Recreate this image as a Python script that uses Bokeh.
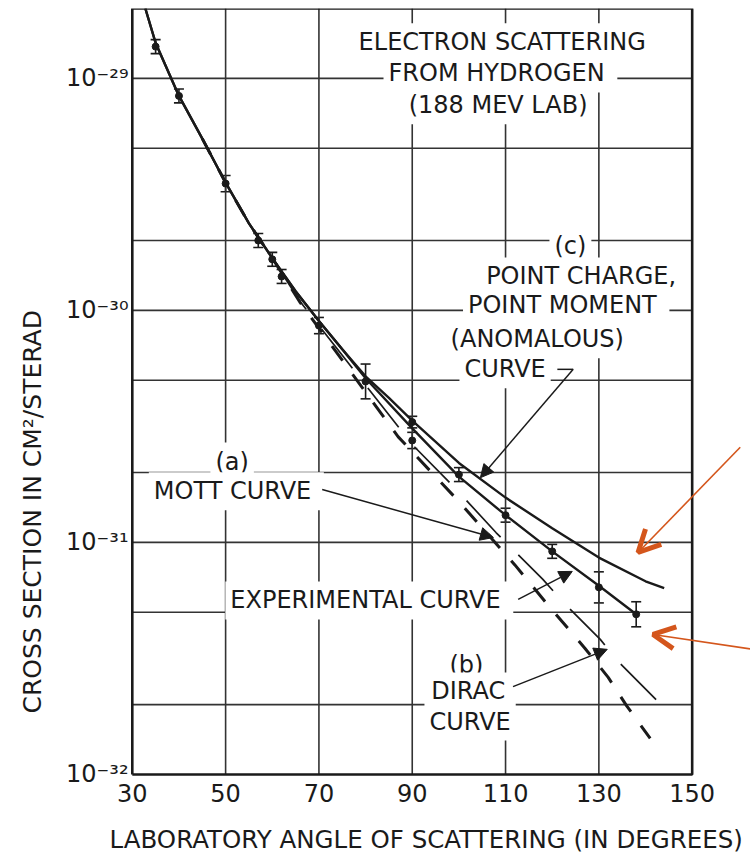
import numpy as np
from bokeh.plotting import figure
from bokeh.models import (Range1d, FixedTicker, Label, Arrow, NormalHead, OpenHead,
                          ColumnDataSource, Whisker, TeeHead, Title)
from bokeh.embed import file_html
from bokeh.resources import INLINE

FONT = "DejaVu Sans"
INK = "#1a1a1a"
ORANGE = "#d4561c"

# ---- axes / grid ----
x_ticks = [30, 50, 70, 90, 110, 130, 150]
x_tick_labels = ["30", "50", "70", "90", "110", "130", "150"]
y_ticks = [1e-32, 1e-31, 1e-30, 1e-29]
y_tick_labels = ["10⁻³²", "10⁻³¹", "10⁻³⁰", "10⁻²⁹"]
x_grid = [50, 70, 90, 110, 130]
y_grid = [2e-32, 5e-32, 1e-31, 2e-31, 5e-31, 1e-30, 2e-30, 5e-30, 1e-29]
x_min, x_max = 30, 150
y_min, y_max = 1e-32, 2e-29
x_title = "LABORATORY ANGLE OF SCATTERING (IN DEGREES)"
y_title = "CROSS SECTION IN CM²/STERAD"

# ---- curves ----
anom_x = [32.8, 35, 40, 45, 50, 55, 60, 65, 70, 75, 80, 85, 90, 100, 110, 120, 130, 140, 144]
anom_y = [2.0e-29, 1.42e-29, 8.4e-30, 5.5e-30, 3.55e-30, 2.37e-30, 1.68e-30, 1.21e-30, 9.0e-31,
          6.8e-31, 5.2e-31, 4.2e-31, 3.35e-31, 2.2e-31, 1.56e-31, 1.15e-31, 8.6e-32, 6.8e-32, 6.35e-32]

exp_x = [32.8, 35, 40, 45, 50, 55, 60, 65, 70, 75, 80, 90, 100, 110, 120, 130, 138]
exp_y = [2.0e-29, 1.42e-29, 8.4e-30, 5.5e-30, 3.55e-30, 2.37e-30, 1.68e-30, 1.21e-30, 9.0e-31,
         6.8e-31, 5.1e-31, 3.1e-31, 1.92e-31, 1.31e-31, 9.15e-32, 6.5e-32, 4.9e-32]

mott_x = [45, 50, 55, 60, 66, 75, 87, 100, 107, 112, 119, 127, 132, 136, 141]
mott_y = [5.5e-30, 3.55e-30, 2.37e-30, 1.68e-30, 1.08e-30, 6.1e-31, 2.85e-31, 1.5e-31,
          1.04e-31, 8.0e-32, 5.4e-32, 3.5e-32, 2.62e-32, 1.97e-32, 1.43e-32]

dirac_x = [45, 50, 55, 60, 66, 75, 90, 99, 108, 118, 122.4, 130.3, 134.1, 142.9]
dirac_y = [5.5e-30, 3.55e-30, 2.37e-30, 1.68e-30, 1.09e-30, 6.4e-31, 2.64e-31, 1.73e-31,
           1.10e-31, 6.93e-32, 5.51e-32, 3.82e-32, 3.07e-32, 2.04e-32]

# ---- measured points ----
pts_x = [35, 40, 50, 57, 60, 62, 70, 80, 90, 90, 100, 110, 120, 130, 138]
pts_y = [1.37e-29, 8.4e-30, 3.52e-30, 2.0e-30, 1.66e-30, 1.4e-30, 8.6e-31, 4.94e-31,
         3.3e-31, 2.75e-31, 1.96e-31, 1.31e-31, 9.15e-32, 6.4e-32, 4.9e-32]
pts_err_dec = [0.03, 0.03, 0.035, 0.03, 0.03, 0.03, 0.035, 0.075,
               0.025, 0.035, 0.03, 0.03, 0.03, 0.067, 0.054]

# ---- annotations ----
note_text = ["ELECTRON  SCATTERING", "FROM  HYDROGEN", "(188 MEV LAB)",
             "(c)", "POINT CHARGE,", "POINT  MOMENT", "(ANOMALOUS)", "CURVE",
             "(a)", "MOTT  CURVE", "EXPERIMENTAL  CURVE",
             "(b)", "DIRAC", "CURVE"]
note_x = [110.1, 108.9, 108.4, 123.9, 126.2, 123.0, 116.8, 109.9,
          51.4, 52.3, 80.8, 101.6, 102.0, 102.4]
note_y = [1.43e-29, 1.05e-29, 7.66e-30, 1.89e-30, 1.40e-30, 1.05e-30, 7.5e-31, 5.57e-31,
          2.23e-31, 1.66e-31, 5.62e-32, 2.95e-32, 2.28e-32, 1.69e-32]

# black pointer arrows: (x_start, y_start, x_end, y_end)
arrows = [
    (124.5, 5.57e-31, 104.6, 1.9e-31),    # anomalous curve
    (70.7, 1.69e-31, 107.4, 1.05e-31),    # Mott curve
    (112.7, 5.68e-32, 124.3, 7.5e-32),    # experimental curve
    (111.6, 2.39e-32, 131.8, 3.46e-32),   # Dirac curve
]
anom_hook_x = [121.1, 124.5]
anom_hook_y = [5.57e-31, 5.57e-31]
orange_arrows = [
    (160.3, 2.57e-31, 138.4, 9.05e-32),
    (164.0, 3.44e-32, 141.6, 4.01e-32),
]

p = figure(width=750, height=854,
           x_range=Range1d(29.4, 162.5), y_range=Range1d(9.7e-33, 2e-29),
           y_axis_type="log", output_backend="svg", toolbar_location=None,
           min_border_left=129, min_border_right=0, min_border_top=8, min_border_bottom=77)
p.outline_line_color = None
p.background_fill_color = "white"
p.border_fill_color = "white"
p.xgrid.visible = False
p.ygrid.visible = False

for ax in (p.xaxis, p.yaxis):
    ax.axis_line_color = None
    ax.major_tick_line_color = None
    ax.minor_tick_line_color = None
    ax.major_tick_out = 0
    ax.major_tick_in = 0
    ax.minor_tick_out = 0
    ax.minor_tick_in = 0
    ax.major_label_text_font = FONT
    ax.major_label_text_font_size = "24px"
    ax.major_label_text_color = INK

p.xaxis.ticker = FixedTicker(ticks=x_ticks, minor_ticks=[])
p.xaxis.major_label_overrides = dict(zip(x_ticks, x_tick_labels))
p.xaxis.major_label_standoff = 6
p.yaxis.ticker = FixedTicker(ticks=y_ticks, minor_ticks=[])
p.yaxis.major_label_overrides = dict(zip(y_ticks, y_tick_labels))
p.yaxis.major_label_standoff = 1

# grid lines
p.segment(x0=x_grid, y0=[y_min] * len(x_grid), x1=x_grid, y1=[y_max] * len(x_grid),
          line_color="#333333", line_width=1.6)
p.segment(x0=[x_min] * len(y_grid), y0=y_grid, x1=[x_max] * len(y_grid), y1=y_grid,
          line_color="#333333", line_width=1.6)
# frame
p.line([x_min, x_max, x_max, x_min, x_min], [y_min, y_min, y_max, y_max, y_min],
       line_color=INK, line_width=2.6)

# curves
p.line(mott_x, mott_y, line_color=INK, line_width=3, line_dash="18 17")
p.line(dirac_x, dirac_y, line_color=INK, line_width=1.7, line_dash="50 25")
p.line(exp_x, exp_y, line_color=INK, line_width=2.4)
p.line(anom_x, anom_y, line_color=INK, line_width=2.4)

# data points with error bars
pts_y_arr = np.array(pts_y)
err = np.array(pts_err_dec)
src = ColumnDataSource(dict(x=pts_x, y=pts_y,
                            upper=pts_y_arr * 10 ** err, lower=pts_y_arr / 10 ** err))
p.add_layout(Whisker(source=src, base="x", upper="upper", lower="lower",
                     line_color=INK, line_width=1.6,
                     upper_head=TeeHead(size=10, line_color=INK, line_width=1.6),
                     lower_head=TeeHead(size=10, line_color=INK, line_width=1.6)))
p.scatter("x", "y", source=src, size=7, color=INK)

# text notes with white backgrounds (they break the grid lines)
for t, x, y in zip(note_text, note_x, note_y):
    p.add_layout(Label(x=x, y=y, text=t, text_font=FONT, text_font_size="24px",
                       text_color=INK, text_align="center", text_baseline="middle",
                       background_fill_color="white", padding=5))

# pointer arrows
p.line(anom_hook_x, anom_hook_y, line_color=INK, line_width=1.5)
for xs, ys, xe, ye in arrows:
    p.add_layout(Arrow(x_start=xs, y_start=ys, x_end=xe, y_end=ye,
                       line_color=INK, line_width=1.5,
                       end=NormalHead(size=13, fill_color=INK, line_color=INK, line_width=1)))
for xs, ys, xe, ye in orange_arrows:
    p.add_layout(Arrow(x_start=xs, y_start=ys, x_end=xe, y_end=ye,
                       line_color=ORANGE, line_width=1.6,
                       end=OpenHead(size=22, line_color=ORANGE, line_width=5)))

# axis titles as side-panel titles (left-aligned with an offset along the frame)
p.add_layout(Title(text=" ", text_font_size="1px", standoff=15), "below")   # spacer
p.add_layout(Title(text=x_title, align="left", offset=-20, vertical_align="bottom",
                   text_font=FONT, text_font_size="24.5px", text_font_style="normal",
                   text_color=INK, standoff=0), "below")
p.add_layout(Title(text=y_title, align="left", offset=64, vertical_align="middle",
                   text_font=FONT, text_font_size="25px", text_font_style="normal",
                   text_color=INK, standoff=32), "left")

open("out.html", "w").write(file_html(p, INLINE))
